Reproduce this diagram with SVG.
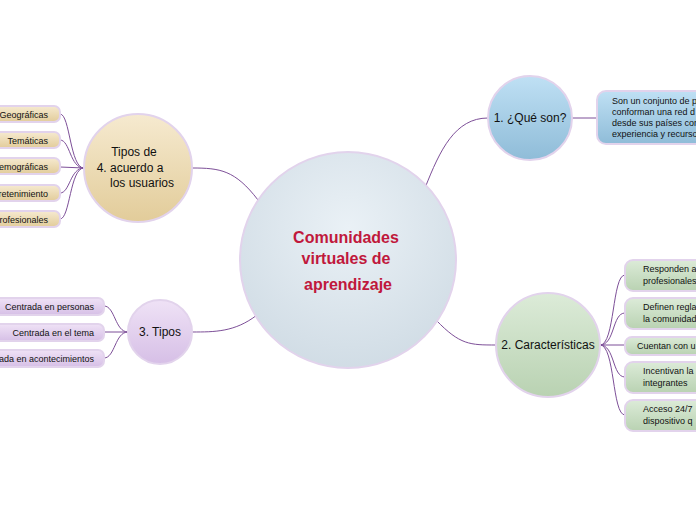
<svg xmlns="http://www.w3.org/2000/svg" width="696" height="520" viewBox="0 0 696 520">
<defs>
<radialGradient id="gc" cx="0.5" cy="0.35" r="0.7"><stop offset="0" stop-color="#eaf1f6"/><stop offset="1" stop-color="#cfdbe4"/></radialGradient>
<linearGradient id="gb" x1="0" y1="0" x2="0" y2="1"><stop offset="0" stop-color="#bfe0f4"/><stop offset="1" stop-color="#8fbcd8"/></linearGradient>
<linearGradient id="gg" x1="0" y1="0" x2="0" y2="1"><stop offset="0" stop-color="#dcebd8"/><stop offset="1" stop-color="#b9d2b2"/></linearGradient>
<linearGradient id="gy" x1="0" y1="0" x2="0" y2="1"><stop offset="0" stop-color="#f6ead0"/><stop offset="1" stop-color="#e2cc9a"/></linearGradient>
<linearGradient id="gp" x1="0" y1="0" x2="0" y2="1"><stop offset="0" stop-color="#efe2f6"/><stop offset="1" stop-color="#d6bfe6"/></linearGradient>
<style>
.n{stroke:#e2d3ec;stroke-width:2}
.c{fill:none;stroke:#7d4f98;stroke-width:1}
text{font-family:"Liberation Sans","DejaVu Sans",sans-serif;fill:#111}
.s{font-size:9px}
.m{font-size:12px}
</style>
</defs>
<g id="connectors">
<path class="c" d="M258 200 C235 170 220 168 192 168"/>
<path class="c" d="M257 315 C235 332 215 332 192 332"/>
<path class="c" d="M425 188 C440 150 455 118 488 118"/>
<path class="c" d="M436 320 C460 345 470 345 496 345"/>
<path class="c" d="M572 118 L597 118"/>
<path class="c" d="M84 168 C70 168 70 114 60 114 M84 168 C70 168 70 140 60 140 M84 168 L60 167 M84 168 C70 168 70 193 60 193 M84 168 C70 168 70 219 60 219"/>
<path class="c" d="M128 332 C115 332 115 306 104 306 M128 332 L104 332 M128 332 C115 332 115 358 104 358"/>
<path class="c" d="M600 345 C615 345 612 275 625 275 M600 345 C615 345 612 313 625 313 M600 345 L625 345 M600 345 C615 345 612 377 625 377 M600 345 C615 345 612 415 625 415"/>
</g>
<g id="center"><circle class="n" cx="348" cy="260" r="108" fill="url(#gc)"/>
<text x="346" y="243" text-anchor="middle" font-size="16" font-weight="bold" style="fill:#c0183c">Comunidades</text>
<text x="346" y="264" text-anchor="middle" font-size="16" font-weight="bold" style="fill:#c0183c">virtuales de</text>
<text x="348" y="290" text-anchor="middle" font-size="16" font-weight="bold" style="fill:#c0183c">aprendizaje</text></g>
<g id="n1"><circle class="n" cx="530" cy="118" r="42" fill="url(#gb)"/><text class="m" x="530" y="122" text-anchor="middle">1. ¿Qué son?</text></g>
<g id="n1a"><rect class="n" x="597" y="91" width="120" height="53" rx="9" fill="url(#gb)"/>
<text class="s" x="612" y="104">Son un conjunto de p</text><text class="s" x="612" y="115">conforman una red d</text><text class="s" x="612" y="126">desde sus países cor</text><text class="s" x="612" y="137">experiencia y recurso</text></g>
<g id="n2"><circle class="n" cx="548" cy="345" r="52" fill="url(#gg)"/><text class="m" x="548" y="349" text-anchor="middle">2. Características</text></g>
<g id="n2a"><rect class="n" x="625" y="260" width="90" height="31" rx="8" fill="url(#gg)"/><text class="s" x="643" y="272">Responden a</text><text class="s" x="643" y="284">profesionales</text></g>
<g id="n2b"><rect class="n" x="625" y="298" width="90" height="31" rx="8" fill="url(#gg)"/><text class="s" x="643" y="310">Definen regla</text><text class="s" x="643" y="322">la comunidad</text></g>
<g id="n2c"><rect class="n" x="625" y="337" width="90" height="18" rx="7" fill="url(#gg)"/><text class="s" x="637" y="349">Cuentan con u</text></g>
<g id="n2d"><rect class="n" x="625" y="362" width="90" height="31" rx="8" fill="url(#gg)"/><text class="s" x="643" y="374">Incentivan la</text><text class="s" x="643" y="386">integrantes</text></g>
<g id="n2e"><rect class="n" x="625" y="400" width="90" height="31" rx="8" fill="url(#gg)"/><text class="s" x="643" y="412">Acceso 24/7</text><text class="s" x="643" y="424">dispositivo q</text></g>
<g id="n4"><circle class="n" cx="138" cy="168" r="54" fill="url(#gy)"/>
<text class="m" x="134" y="156" text-anchor="middle">Tipos de</text><text class="m" x="130" y="172" text-anchor="middle">4. acuerdo a</text><text class="m" x="142" y="187" text-anchor="middle">los usuarios</text></g>
<g id="n4a"><rect class="n" x="-20" y="106" width="80" height="16" rx="6" fill="url(#gy)"/><text class="s" x="48" y="118" text-anchor="end">Geográficas</text></g>
<g id="n4b"><rect class="n" x="-20" y="132" width="80" height="16" rx="6" fill="url(#gy)"/><text class="s" x="48" y="144" text-anchor="end">Temáticas</text></g>
<g id="n4c"><rect class="n" x="-20" y="158" width="80" height="16" rx="6" fill="url(#gy)"/><text class="s" x="48" y="170" text-anchor="end">emográficas</text></g>
<g id="n4d"><rect class="n" x="-20" y="185" width="80" height="16" rx="6" fill="url(#gy)"/><text class="s" x="48" y="197" text-anchor="end">retenimiento</text></g>
<g id="n4e"><rect class="n" x="-20" y="211" width="80" height="16" rx="6" fill="url(#gy)"/><text class="s" x="48" y="223" text-anchor="end">rofesionales</text></g>
<g id="n3"><circle class="n" cx="160" cy="332" r="32" fill="url(#gp)"/><text class="m" x="160" y="336" text-anchor="middle">3. Tipos</text></g>
<g id="n3a"><rect class="n" x="-20" y="298" width="124" height="17" rx="6" fill="url(#gp)"/><text class="s" x="94" y="310" text-anchor="end">Centrada en personas</text></g>
<g id="n3b"><rect class="n" x="-20" y="324" width="124" height="17" rx="6" fill="url(#gp)"/><text class="s" x="94" y="336" text-anchor="end">Centrada en el tema</text></g>
<g id="n3c"><rect class="n" x="-20" y="350" width="124" height="17" rx="6" fill="url(#gp)"/><text class="s" x="94" y="362" text-anchor="end">ada en acontecimientos</text></g>
</svg>
